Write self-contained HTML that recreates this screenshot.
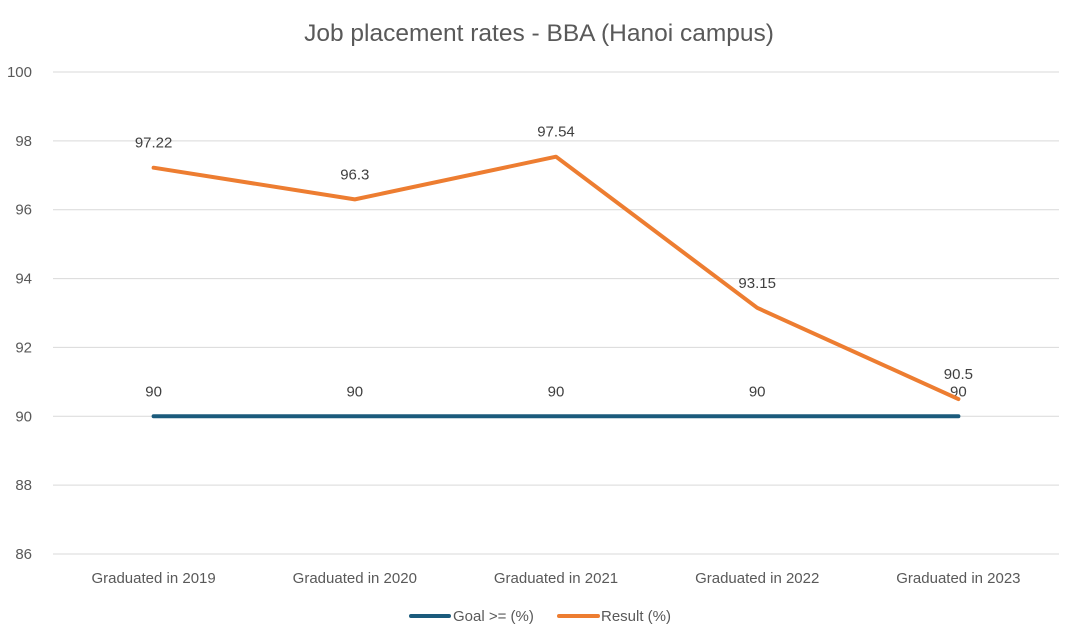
<!DOCTYPE html>
<html><head><meta charset="utf-8"><style>
html,body{margin:0;padding:0;background:#fff;}
svg{display:block;font-family:"Liberation Sans",sans-serif;}
</style></head><body>
<svg id="chart" width="1080" height="635" viewBox="0 0 1080 635">
<rect width="1080" height="635" fill="#fff"/>
<text x="539" y="41" text-anchor="middle" font-size="24.5" fill="#595959">Job placement rates - BBA (Hanoi campus)</text>
<g id="grid"></g><g id="series"></g>
<g>
<line x1="411" y1="616" x2="449" y2="616" stroke="#1B5B7C" stroke-width="4" stroke-linecap="round"/>
<text x="453" y="621" font-size="15" fill="#595959">Goal &gt;= (%)</text>
<line x1="559" y1="616" x2="598" y2="616" stroke="#ED7D31" stroke-width="4" stroke-linecap="round"/>
<text x="601" y="621" font-size="15" fill="#595959">Result (%)</text>
</g>
</svg>
<script>
const categories=["Graduated in 2019","Graduated in 2020","Graduated in 2021","Graduated in 2022","Graduated in 2023"];
const goal=[90,90,90,90,90];
const result=[97.22,96.3,97.54,93.15,90.5];
const yTicks=[86,88,90,92,94,96,98,100];
const NS="http://www.w3.org/2000/svg";
const L=53,R=1059,yMin=86,yMax=100,yTop=72,yBot=554;
const band=(R-L)/categories.length;
const x=i=>L+band*(i+0.5);
const y=v=>yBot-(v-yMin)/(yMax-yMin)*(yBot-yTop);
function mk(t,a,p){const e=document.createElementNS(NS,t);for(const k in a)e.setAttribute(k,a[k]);p.appendChild(e);return e;}
const g=document.getElementById('grid'),s=document.getElementById('series');
yTicks.forEach(v=>{
 const l=mk('line',{x1:L,x2:R,y1:y(v),y2:y(v),stroke:'#d9d9d9','stroke-width':1},g);
 
 
 const t=mk('text',{x:32,y:y(v)+5,'text-anchor':'end','font-size':15,fill:'#595959'},g);
 t.textContent=v;
 
 
});
categories.forEach((c,i)=>{
 const t=mk('text',{x:x(i),y:583,'text-anchor':'middle','font-size':15,fill:'#595959'},g);
 t.textContent=c;
 
 
});
function series(vals,color,name){
 const p=mk('polyline',{points:vals.map((v,i)=>x(i)+','+y(v)).join(' '),fill:'none',stroke:color,'stroke-width':4,'stroke-linejoin':'round','stroke-linecap':'round'},s);
 
 
 vals.forEach((v,i)=>{
  const t=mk('text',{x:x(i),y:y(v)-20,'text-anchor':'middle','font-size':15,fill:'#404040'},s);
  t.textContent=v;
  
  
 });
}
series(goal,'#1B5B7C','goal');
series(result,'#ED7D31','result');
</script>
</body></html>
